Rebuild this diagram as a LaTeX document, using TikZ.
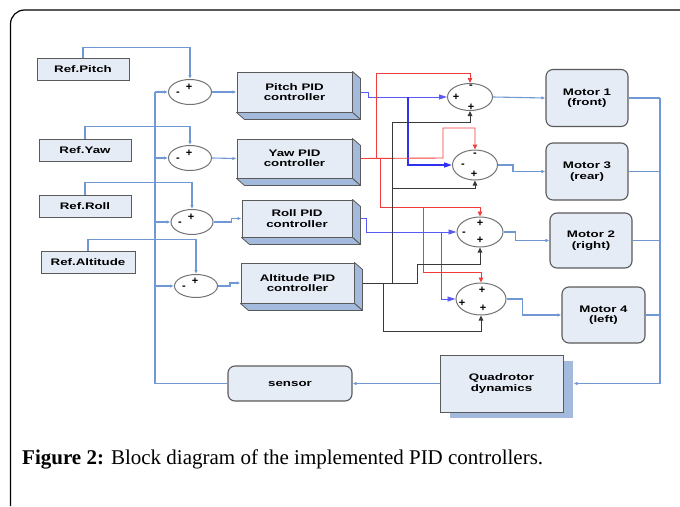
\documentclass[tikz,border=0pt]{standalone}
\usepackage{fontspec}
\setmainfont{Liberation Serif}
\newfontfamily\blockfont[FakeStretch=1.4]{Liberation Sans}
\newfontfamily\signfont{Liberation Sans}
\usetikzlibrary{shapes.geometric,arrows.meta,shadows}

\definecolor{boxfill}{HTML}{E6ECF6}
\definecolor{boxside}{HTML}{A3BADC}
\definecolor{wirecol}{HTML}{7099D4}
\definecolor{edgecol}{HTML}{5A5A5A}
\definecolor{mixblue}{HTML}{3030F0}
\definecolor{mixred}{HTML}{F03C3C}
\definecolor{mixblack}{HTML}{3A3A3A}

\begin{document}
\begin{tikzpicture}[x=1pt,y=-1pt]
        \tikzstyle{every node}=[font=\blockfont\bfseries\fontsize{9.5}{10.5}\selectfont, inner sep=0pt]
        \tikzstyle{refbox}=[draw=edgecol, fill=boxfill, line width=1pt, minimum width=92pt, minimum height=22pt]
        \tikzstyle{pid}=[draw=edgecol, fill=boxfill, line width=1pt, align=center]
        \tikzstyle{pidside}=[draw=edgecol, fill=boxside, line width=0.8pt, line join=round]
        \tikzstyle{motor}=[draw=edgecol, fill=boxfill, line width=1.1pt, rounded corners=7pt, align=center]
        \tikzstyle{sum}=[draw=gray!90!black, fill=white, ellipse, line width=1pt]
        \tikzstyle{sgn}=[font=\signfont\bfseries\fontsize{11}{11}\selectfont]
        \tikzstyle{wire}=[draw=wirecol, line width=1.1pt, -{Latex[length=4pt,width=3.5pt]}]
        \tikzstyle{mixb}=[draw=mixblue!80!white, line width=0.9pt, -{Triangle[length=8pt,width=5pt]}]
        \tikzstyle{mixbb}=[draw=mixblue, line width=1.6pt, -{Triangle[length=8pt,width=5pt]}]
        \tikzstyle{mixr}=[draw=mixred, line width=0.9pt, -{Triangle[length=5pt,width=4.5pt]}]
        \tikzstyle{mixk}=[draw=mixblack, line width=0.9pt, -{Triangle[length=5pt,width=4.5pt]}]

        \useasboundingbox (0,0) rectangle (680,506);
        % frame
        \draw[line width=1.2pt, rounded corners=14pt] (10.5,506) -- (10.5,10) -- (680,10);

        % references
        \node[refbox] (rpitch) at (83,69) {Ref.Pitch};
        \node[refbox] (ryaw) at (85,150) {Ref.Yaw};
        \node[refbox] (rroll) at (85,206) {Ref.Roll};
        \node[refbox, minimum width=94pt] (ralt) at (88,262) {Ref.Altitude};

        % outer summing junctions
        \node[sum, minimum width=43pt, minimum height=25pt] (s1) at (190,92) {};
        \node[sum, minimum width=43pt, minimum height=25pt] (s2) at (190,158) {};
        \node[sum, minimum width=42pt, minimum height=25pt] (s3) at (192,222) {};
        \node[sum, minimum width=43pt, minimum height=23pt] (s4) at (196,286) {};
        \foreach \s in {s1,s2,s3,s4} {
            \node[sgn] at ([shift={(-1,-5)}]\s.center) {+};
            \node[sgn] at ([shift={(-12,2)}]\s.center) {-};
        }

        % PID controllers
        \node[pid, minimum width=115pt, minimum height=40pt] (pitch) at (294.5,92) {Pitch PID\\controller};
        \node[pid, minimum width=115pt, minimum height=39pt] (yaw) at (294.5,158.5) {Yaw PID\\controller};
        \node[pid, minimum width=110pt, minimum height=37pt] (roll) at (297,218.5) {Roll PID\\controller};
        \node[pid, minimum width=113pt, minimum height=40pt] (alt) at (297.5,283) {Altitude PID\\controller};
        \foreach \n in {pitch,yaw,roll,alt} {
            \draw[pidside] (\n.north east) -- ++(8,7) -- ([shift={(8,7)}]\n.south east) -- (\n.south east) -- cycle;
            \draw[pidside] (\n.south west) -- ++(8,7) -- ([shift={(8,7)}]\n.south east) -- (\n.south east) -- cycle;
        }

        % inner summing junctions
        \node[sum, minimum width=45pt, minimum height=27pt] (t1) at (470,97) {};
        \node[sum, minimum width=45pt, minimum height=30pt] (t2) at (475,165) {};
        \node[sum, minimum width=46pt, minimum height=30pt] (t3) at (480,232) {};
        \node[sum, minimum width=50pt, minimum height=32pt] (t4) at (481,299) {};
        \node[sgn] at ([shift={(1,-10)}]t1.center) {-};
        \node[sgn] at ([shift={(-14,0)}]t1.center) {+};
        \node[sgn] at ([shift={(1,10)}]t1.center) {+};
        \node[sgn] at ([shift={(0,-10)}]t2.center) {-};
        \node[sgn] at ([shift={(-12,1)}]t2.center) {-};
        \node[sgn] at ([shift={(-1,9)}]t2.center) {+};
        \node[sgn] at ([shift={(0,-9)}]t3.center) {+};
        \node[sgn] at ([shift={(-16,2)}]t3.center) {-};
        \node[sgn] at ([shift={(0,8)}]t3.center) {+};
        \node[sgn] at ([shift={(1,-9)}]t4.center) {+};
        \node[sgn] at ([shift={(-19,4)}]t4.center) {+};
        \node[sgn] at ([shift={(2,9)}]t4.center) {+};

        % motors, plant, sensor
        \node[motor, minimum width=82pt, minimum height=57pt] (m1) at (587,98) {Motor 1\\(front)};
        \node[motor, minimum width=82pt, minimum height=57pt] (m3) at (587,171.5) {Motor 3\\(rear)};
        \node[motor, minimum width=82pt, minimum height=55pt] (m2) at (591,240.5) {Motor 2\\(right)};
        \node[motor, minimum width=83pt, minimum height=56pt] (m4) at (603.5,315) {Motor 4\\(left)};
        \node[pid, minimum width=123pt, minimum height=57pt,
              drop shadow={shadow xshift=10pt, shadow yshift=-6pt, fill=boxside, opacity=1}] (quad) at (501.5,383.5) {Quadrotor\\dynamics};
        \node[motor, minimum width=124pt, minimum height=35pt] (sensor) at (290,383.5) {sensor};

        % references into junctions
        \draw[wire] (rpitch.north) -- ++(0,-10) -| (s1.north);
        \draw[wire] (ryaw.north) -- ++(0,-12) -| (s2.north);
        \draw[wire] (rroll.north) -- ++(0,-12) -| (s3.north);
        \draw[wire] (ralt.north) -- ++(0,-11) -| (s4.north);

        % feedback
        \coordinate (fb) at (155,92);
        \draw[wire, -] (sensor.west) -| (fb);
        \foreach \s in {s1,s2,s3,s4}
            \draw[wire] (fb |- \s.west) -- (\s.west);

        \draw[wire] (s1.east) -- (pitch.west);
        \draw[wire] (s2.east) -- (yaw.west);
        \draw[wire] (s3.east) -- +(18,0) |- (roll.west);
        \draw[wire] (s4.east) -- +(12,0) |- (alt.west);

        % pitch
        \coordinate (pb) at (408,97);
        \draw[mixb] ([xshift=8]pitch.east) -- ++(8,0) |- (t1.west);
        \draw[mixbb] (pb) |- (t2.west);
        % yaw
        \coordinate (yup) at (376,158);
        \coordinate (ydn) at (380,158);
        \coordinate (ytap) at (423,207);
        \draw[mixr] ([xshift=8]yaw.east) -- (443,158) -- (443,128) -| (t2.north);
        \draw[mixr] (yup) -- (376,73) -| (t1.north);
        \draw[mixr] (ydn) -- (380,207) -| (t3.north);
        \draw[mixr] (ytap) -- (423,272) -| (t4.north);
        % roll
        \coordinate (rb) at (441,232);
        \draw[mixb] ([xshift=8]roll.east) -- ++(6,0) |- (t3.west);
        \draw[mixb] (rb) |- (t4.west);
        % altitude
        \coordinate (au) at (392,283);
        \coordinate (am) at (392,188);
        \coordinate (ad) at (383,283);
        \draw[mixk] ([xshift=8]alt.east) -- (417,283) -- (417,264) -| (t3.south);
        \draw[mixk] (au) -- (392,122) -| (t1.south);
        \draw[mixk] (am) -| (t2.south);
        \draw[mixk] (ad) -- (383,331) -| (t4.south);

        % motors
        \draw[wire] (t1.east) -- (m1.west);
        \draw[wire] (t2.east) -- +(15,0) |- (m3.west);
        \draw[wire] (t3.east) -- +(12,0) |- (m2.west);
        \draw[wire] (t4.east) -- +(16,0) |- (m4.west);
        \coordinate (bus) at (660,98);
        \foreach \m in {m1,m3,m2,m4}
            \draw[wire, -] (\m.east) -- (bus |- \m.east);
        \draw[wire] (bus) |- ([xshift=10]quad.east);
        \draw[wire] (quad.west) -- (sensor.east);

        \node[anchor=base west, font=\fontsize{21}{24}\selectfont] (cap) at (22,464) {\textbf{Figure 2:} Block diagram of the implemented PID controllers.};
    \end{tikzpicture}
\end{document}
